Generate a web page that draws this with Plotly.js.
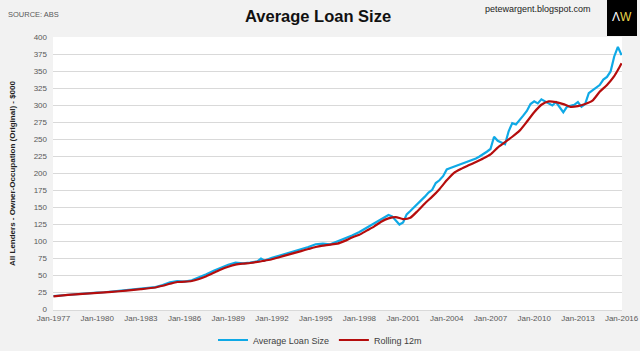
<!DOCTYPE html>
<html>
<head>
<meta charset="utf-8">
<script src="https://cdn.plot.ly/plotly-3.0.1.min.js"></script>
<style>html,body{margin:0;padding:0;background:#f2f2f2;}#chart{width:640px;height:351px;}</style>
</head>
<body>
<div id="chart"></div>
<script>
var avgDates = ["1977-01","1977-07","1978-01","1978-07","1979-01","1979-07","1980-01","1980-07","1981-01","1981-07","1982-01","1982-07","1983-01","1983-07","1984-01","1984-07","1985-01","1985-07","1986-01","1986-07","1987-01","1987-07","1988-01","1988-07","1989-01","1989-07","1990-01","1990-07","1991-01","1991-04","1991-07","1992-01","1992-07","1993-01","1993-07","1994-01","1994-07","1995-01","1995-07","1996-01","1996-07","1997-01","1997-07","1998-01","1998-07","1999-01","1999-07","2000-01","2000-04","2000-07","2000-10","2001-01","2001-04","2001-07","2001-10","2002-01","2002-04","2002-07","2002-10","2003-01","2003-04","2003-07","2003-10","2004-01","2004-04","2004-07","2004-10","2005-01","2005-04","2005-07","2005-10","2006-01","2006-04","2006-07","2006-10","2007-01","2007-04","2007-07","2007-10","2008-01","2008-04","2008-07","2008-10","2009-01","2009-04","2009-07","2009-10","2010-01","2010-04","2010-07","2010-10","2011-01","2011-04","2011-07","2011-10","2012-01","2012-04","2012-07","2012-10","2013-01","2013-04","2013-07","2013-10","2014-01","2014-04","2014-07","2014-10","2015-01","2015-04","2015-07","2015-10","2016-01"];
var avgValues = [20,21,22,23,24,24.5,25,25.5,26.5,27.5,28,29,31,32,33,36,40,42,41,43,47,52,57,62,66,69,68,69,71,75,72,76,79,82,85,88,92,96,97,96,100,104,109,114,120,127,133,139,137,131,125,128,140,145,150,156,160,166,172,176,186,190,196,206,208,210,212,213,215,218,220,222,225,228,232,236,254,248,246,243,262,274,272,278,285,292,302,306,303,309,306,304,300,305,298,290,298,299,301,305,298,302,318,322,326,330,338,342,350,372,386,374];

var rollDates = ["1977-01","1978-01","1979-01","1980-01","1981-01","1982-01","1983-01","1984-01","1984-07","1985-01","1985-07","1986-01","1986-07","1987-01","1987-07","1988-01","1988-07","1989-01","1989-07","1990-01","1990-07","1991-01","1991-07","1992-01","1992-07","1993-01","1993-07","1994-01","1994-07","1995-01","1995-07","1996-01","1996-07","1997-01","1997-07","1998-01","1998-07","1999-01","1999-07","2000-01","2000-07","2001-01","2001-07","2002-01","2002-07","2003-01","2003-07","2004-01","2004-07","2005-01","2005-07","2006-01","2006-07","2007-01","2007-07","2008-01","2008-07","2009-01","2009-07","2010-01","2010-07","2011-01","2011-07","2012-01","2012-07","2013-01","2013-07","2014-01","2014-07","2015-01","2015-07","2015-10","2016-01"];
var rollValues = [19.5,21.5,23,24.5,26,28,30,32.5,35,38,40.5,41,42,45,49,54,59,63,66,67.5,68.5,70,72,74,77,80,83,86,89,92,94,95.5,97,101,106,110,116,122,129,134,136,133,135,145,156,166,177,190,201,207,212,217,222,228,238,246,254,263,276,290,301,306,305,302,298,299,302,307,320,330,343,352,362];

var seriesNames = ["Average Loan Size","Rolling 12m"];
var yTicks = [0,25,50,75,100,125,150,175,200,225,250,275,300,325,350,375,400];
var xTickDates = ["1977-01-01","1980-01-01","1983-01-01","1986-01-01","1989-01-01","1992-01-01","1995-01-01","1998-01-01","2001-01-01","2004-01-01","2007-01-01","2010-01-01","2013-01-01","2016-01-01"];
var xTickLabels = ["Jan-1977","Jan-1980","Jan-1983","Jan-1986","Jan-1989","Jan-1992","Jan-1995","Jan-1998","Jan-2001","Jan-2004","Jan-2007","Jan-2010","Jan-2013","Jan-2016"];

var sans = "Liberation Sans, Arial, sans-serif";

var traces = [
  {x: avgDates, y: avgValues, type: "scatter", mode: "lines", name: seriesNames[0],
   line: {color: "#0fa9e6", width: 2.2}, cliponaxis: false},
  {x: rollDates, y: rollValues, type: "scatter", mode: "lines", name: seriesNames[1],
   line: {color: "#b50d0d", width: 2.2, shape: "spline", smoothing: 0.6}, cliponaxis: false}
];

var layout = {
  width: 640, height: 351,
  paper_bgcolor: "#f2f2f2", plot_bgcolor: "#ffffff",
  margin: {l: 53, r: 18, t: 37, b: 41, autoexpand: false},
  showlegend: true,
  legend: {orientation: "h", xref: "container", yref: "container", x: 0.5, xanchor: "center", y: 11/351, yanchor: "middle",
           font: {family: sans, size: 9, color: "#404040"}, bgcolor: "rgba(0,0,0,0)",
           itemwidth: 30, tracegroupgap: 0},
  title: {text: "<b>Average Loan Size</b>", x: 0.497, xanchor: "center", y: 0.955, yanchor: "middle",
          font: {family: sans, size: 16.5, color: "#111111"}},
  xaxis: {type: "date", range: ["1976-12-20", "2016-01-12"], tickvals: xTickDates, ticktext: xTickLabels,
          showgrid: false, showline: true, linecolor: "#d9d9d9", linewidth: 1, automargin: false,
          ticks: "", tickfont: {family: sans, size: 8, color: "#595959"}, zeroline: false},
  yaxis: {range: [-0.6, 400.6], tickvals: yTicks, ticktext: yTicks.map(String), showgrid: true, automargin: false,
          gridcolor: "#d9d9d9", gridwidth: 1, zeroline: false, showline: false, ticks: "", ticklabelstandoff: 5,
          tickfont: {family: sans, size: 8, color: "#595959"},
          title: {text: "<b>All Lenders - Owner-Occupation (Original) - $000</b>", standoff: 16,
                  font: {family: sans, size: 8, color: "#222222"}}},
  shapes: [
    {type: "rect", xref: "paper", yref: "paper", x0: (607-53)/569, x1: (637-53)/569,
     y0: (310-36)/273, y1: 1.2, fillcolor: "#000000", line: {width: 0}, layer: "above"}
  ],
  annotations: [
    {text: "SOURCE: ABS", xref: "paper", yref: "paper", x: (6-53)/569, y: (310-14)/273, xanchor: "left", yanchor: "middle",
     showarrow: false, font: {family: sans, size: 7.5, color: "#595959"}},
    {text: "petewargent.blogspot.com", xref: "paper", yref: "paper", x: (538-53)/569, y: (310-9)/273, xanchor: "center", yanchor: "middle",
     showarrow: false, font: {family: sans, size: 9, color: "#222222"}},
    {text: "<span style='color:#ffffff'>Λ</span><span style='color:#e8d64a'>W</span>", xref: "paper", yref: "paper",
     x: (622-53)/569, y: (310-17)/273, xanchor: "center", yanchor: "middle",
     showarrow: false, font: {family: sans, size: 12}}
  ]
};

Plotly.newPlot("chart", traces, layout, {displayModeBar: false, staticPlot: true});
</script>
</body>
</html>
